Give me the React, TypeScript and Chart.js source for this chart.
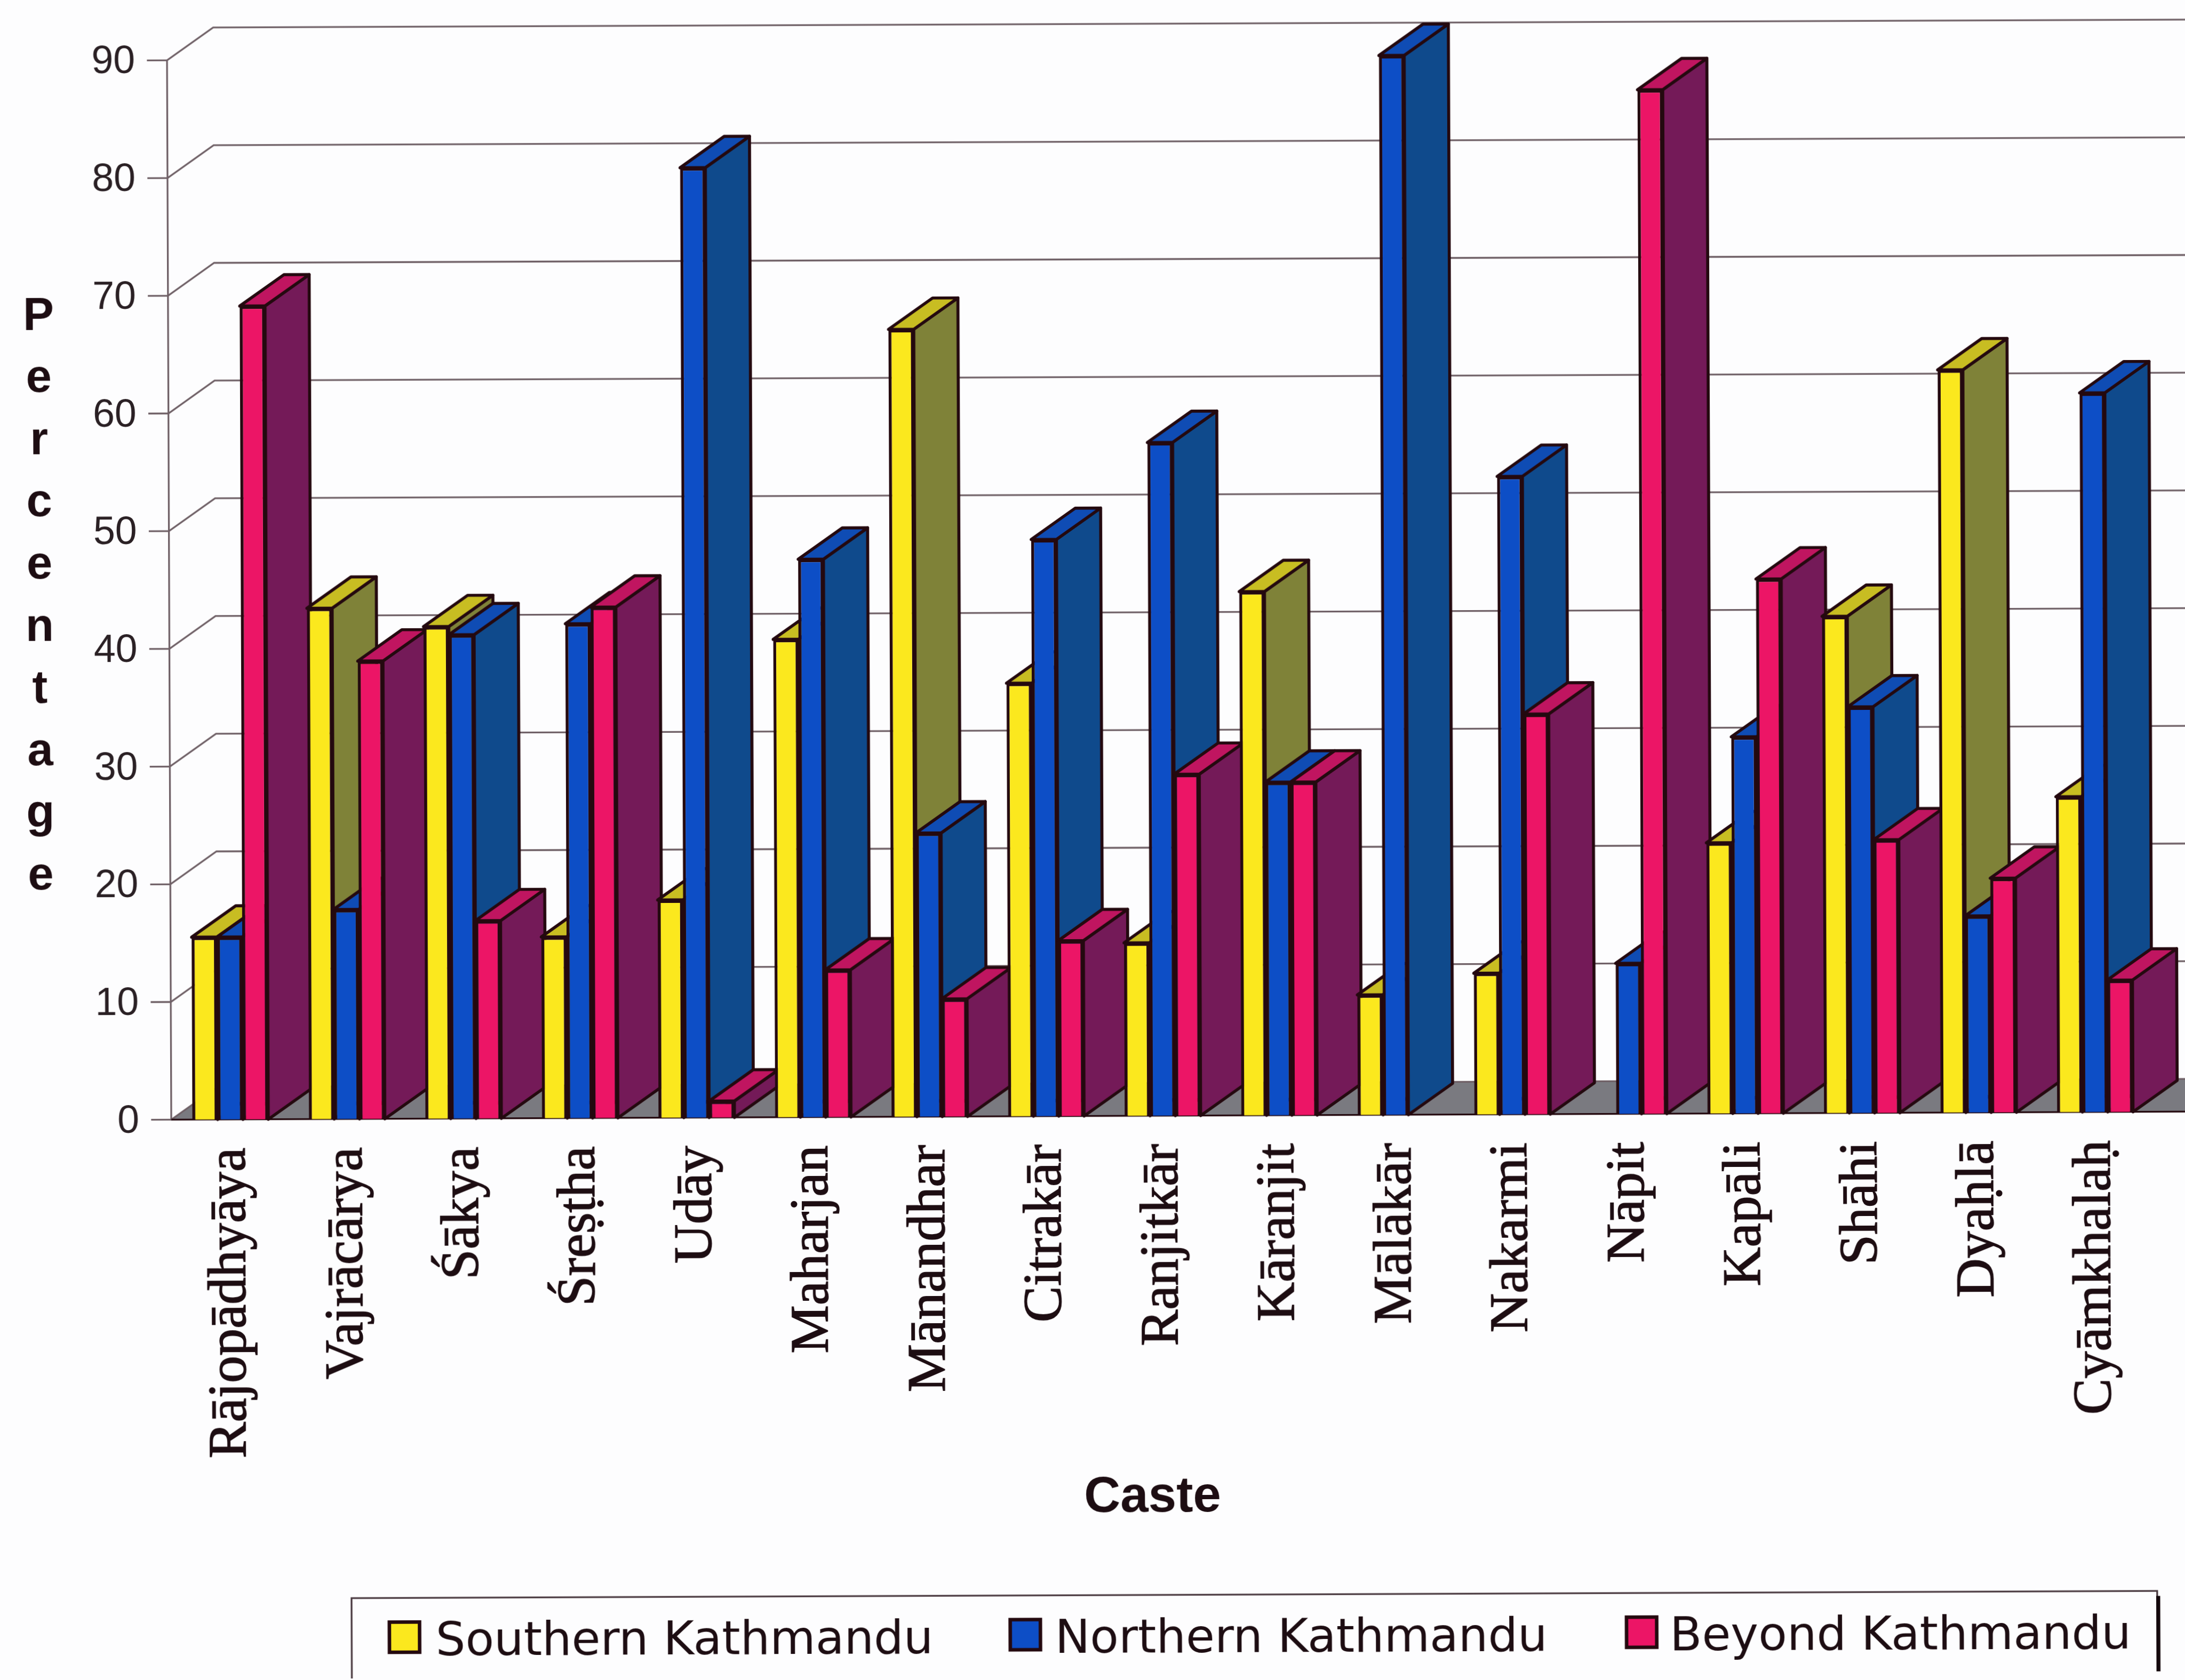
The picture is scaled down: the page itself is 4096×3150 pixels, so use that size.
import React, { useEffect, useRef } from "react";
import { Chart, registerables } from "chart.js";

Chart.register(...registerables);

const castes = [
  "Rājopādhyāya", "Vajrācārya", "Śākya", "Śreṣṭha", "Udāy", "Maharjan",
  "Mānandhar", "Citrakār", "Ranjitkār", "Kāranjit", "Mālākār", "Nakarmi",
  "Nāpit", "Kapāli", "Shāhi", "Dyaḥlā", "Cyāmkhalaḥ",
];
const southern = [15.5, 43.4, 41.8, 15.4, 18.5, 40.6, 66.9, 36.8, 14.7, 44.5, 10.2, 12, 0, 23, 42.2, 63.1, 26.8];
const northern = [15.5, 17.8, 41.1, 42, 80.7, 47.4, 24.1, 49, 57.2, 28.3, 90, 54.2, 12.8, 32, 34.5, 16.7, 61.1];
const beyond = [69.1, 38.9, 16.8, 43.4, 1.4, 12.5, 10, 14.9, 29, 28.3, 0, 34, 87, 45.4, 23.2, 19.9, 11.2];
const seriesNames = ["Southern Kathmandu", "Northern Kathmandu", "Beyond Kathmandu"];
const yAxisLetters = ["P", "e", "r", "c", "e", "n", "t", "a", "g", "e"];

// Face shades for each series: front, top, side.
const faces = [
  { front: "#fbe81e", top: "#c8bd22", side: "#7f8238" },
  { front: "#0d4ec6", top: "#0f4cb4", side: "#0f4a8c" },
  { front: "#ec1566", top: "#c01560", side: "#741a58" },
];

const WIDTH = 4096;
const HEIGHT = 3150;
const S = WIDTH / 4343;
const TILT = 0.004;

const INK = "#24090f";
const GRID = "#6f6066";
const FLOOR = "#7a7a80";
const PLOT_LEFT = 333 * S;
const PLOT_RIGHT = 4272.5 * S;
const PLOT_TOP = 121.3 * S;
const PLOT_BOTTOM = 2227.4 * S;
const AXIS_X = 331.5 * S;
const WALL_DX = 92 * S;
const WALL_DY = 65 * S;
const BAR_DX = 88 * S;
const BAR_DY = 62 * S;
const EDGE = 6 * S;

function polygon(ctx: CanvasRenderingContext2D, pts: number[][], fill: string) {
  ctx.beginPath();
  pts.forEach(([x, y], i) => (i ? ctx.lineTo(x, y) : ctx.moveTo(x, y)));
  ctx.closePath();
  ctx.fillStyle = fill;
  ctx.fill();
  ctx.lineWidth = EDGE;
  ctx.lineJoin = "round";
  ctx.strokeStyle = INK;
  ctx.stroke();
}

const perspectivePlugin = {
  id: "perspective",
  // Nudges the value labels down so the digits sit level with their tick marks.
  beforeDraw(chart: any) {
    chart.scales.y.getLabelItems().forEach((item: any) => {
      if (!item.nudged) {
        item.options.translation[1] += 4 * S;
        item.nudged = true;
      }
    });
  },
  // Back wall, floor and the value axis sit behind every bar.
  beforeDatasetsDraw(chart: any) {
    const { ctx, scales } = chart;
    const y = scales.y;
    const farRight = WIDTH + 40;
    ctx.save();
    const y0 = y.getPixelForValue(0);
    ctx.beginPath();
    ctx.moveTo(AXIS_X, y0);
    ctx.lineTo(AXIS_X + WALL_DX, y0 - WALL_DY);
    ctx.lineTo(farRight, y0 - WALL_DY);
    ctx.lineTo(farRight, y0);
    ctx.closePath();
    ctx.fillStyle = FLOOR;
    ctx.fill();

    ctx.strokeStyle = GRID;
    ctx.lineWidth = 3.5 * S;
    y.ticks.forEach((t: any) => {
      const py = y.getPixelForValue(t.value);
      ctx.beginPath();
      ctx.moveTo(AXIS_X - 40 * S, py);
      ctx.lineTo(AXIS_X, py);
      ctx.lineTo(AXIS_X + WALL_DX, py - WALL_DY);
      ctx.lineTo(farRight, py - WALL_DY);
      ctx.stroke();
    });
    ctx.beginPath();
    ctx.moveTo(AXIS_X, y.getPixelForValue(90));
    ctx.lineTo(AXIS_X, y0);
    ctx.stroke();
    ctx.strokeStyle = INK;
    ctx.beginPath();
    ctx.moveTo(AXIS_X, y0);
    ctx.lineTo(farRight, y0);
    ctx.stroke();

    // Bars are painted group by group, left to right, so each one hides
    // the depth of its left-hand neighbour.
    castes.forEach((_, index) => {
      chart.data.datasets.forEach((ds: any, di: number) => {
        if (!ds.data[index]) return;
        const el = chart.getDatasetMeta(di).data[index];
        const { x, y: top, base, width } = el.getProps(["x", "y", "base", "width"], true);
        const x1 = x - width / 2;
        const x2 = x + width / 2;
        polygon(ctx, [[x2, top], [x2 + BAR_DX, top - BAR_DY], [x2 + BAR_DX, base - BAR_DY], [x2, base]], faces[di].side);
        polygon(ctx, [[x1, top], [x1 + BAR_DX, top - BAR_DY], [x2 + BAR_DX, top - BAR_DY], [x2, top]], faces[di].top);
        el.draw(ctx);
      });
    });
    ctx.restore();
    return false;
  },
  afterDraw(chart: any) {
    const { ctx } = chart;
    ctx.save();
    // Vertical axis caption, one letter per row.
    ctx.fillStyle = "#1d0d12";
    ctx.textAlign = "center";
    ctx.textBaseline = "alphabetic";
    ctx.font = `bold ${92 * S}px "Liberation Sans"`;
    yAxisLetters.forEach((c, i) => ctx.fillText(c, 74 * S, (656 + i * 123.6) * S));

    // Horizontal axis caption.
    ctx.font = `bold ${100 * S}px "Liberation Sans"`;
    ctx.fillText("Caste", 2279 * S, 3014 * S);

    // Legend frame runs off the bottom edge.
    const boxL = 686 * S;
    const boxT = 3180 * S;
    const boxR = 4275 * S;
    const boxB = HEIGHT + 40;
    ctx.strokeStyle = "#4a3a40";
    ctx.lineWidth = 3.5 * S;
    ctx.beginPath();
    ctx.moveTo(boxL, boxB);
    ctx.lineTo(boxL, boxT);
    ctx.lineTo(boxR, boxT);
    ctx.lineTo(boxR, boxB);
    ctx.stroke();
    ctx.strokeStyle = "#14080c";
    ctx.lineWidth = 8 * S;
    ctx.beginPath();
    ctx.moveTo(boxR + 2 * S, 3190 * S);
    ctx.lineTo(boxR + 2 * S, boxB);
    ctx.stroke();

    const swatchX = [761, 1995, 3220];
    const textX = [853, 2084, 3306];
    ctx.font = `${93 * S}px "DejaVu Sans"`;
    ctx.textAlign = "left";
    seriesNames.forEach((name, i) => {
      ctx.fillStyle = faces[i].front;
      ctx.fillRect(swatchX[i] * S, 3228 * S, 60 * S, 60 * S);
      ctx.strokeStyle = INK;
      ctx.lineWidth = 7 * S;
      ctx.strokeRect(swatchX[i] * S, 3228 * S, 60 * S, 60 * S);
      ctx.fillStyle = "#1d0d12";
      ctx.fillText(name, textX[i] * S, 3294 * S);
    });
    ctx.restore();
  },
};

export default function App() {
  const ref = useRef<HTMLCanvasElement | null>(null);

  useEffect(() => {
    document.body.style.margin = "0";
    document.body.style.background = "#fdfdfe";
    document.documentElement.style.overflow = "hidden";
    const chart = new Chart(ref.current as HTMLCanvasElement, {
      type: "bar",
      data: {
        labels: castes,
        datasets: [southern, northern, beyond].map((values, i) => ({
          label: seriesNames[i],
          data: values,
          backgroundColor: faces[i].front,
          borderColor: INK,
          borderWidth: EDGE,
          categoryPercentage: 0.6516,
          barPercentage: 1,
        })),
      },
      options: {
        responsive: false,
        animation: false,
        devicePixelRatio: 1,
        layout: { padding: { top: PLOT_TOP, right: WIDTH - PLOT_RIGHT, bottom: 0, left: 0 } },
        plugins: { legend: { display: false }, title: { display: false }, tooltip: { enabled: false } },
        scales: {
          x: {
            grid: { display: false, drawTicks: false },
            border: { display: false },
            ticks: {
              autoSkip: false,
              minRotation: 90,
              maxRotation: 90,
              padding: 56 * S,
              color: "#1d0d12",
              textStrokeColor: "#1d0d12",
              textStrokeWidth: 1.5,
              font: { family: '"Liberation Serif"', size: 108 * S },
            },
            afterFit(scale: any) {
              scale.height = HEIGHT - PLOT_BOTTOM;
            },
          },
          y: {
            min: 0,
            max: 90,
            grid: { display: false, drawTicks: false },
            border: { display: false },
            ticks: {
              stepSize: 10,
              padding: 65 * S,
              color: "#2a2024",
              font: { family: '"Liberation Sans"', size: 78 * S },
            },
            afterFit(scale: any) {
              scale.width = PLOT_LEFT;
            },
          },
        },
      },
      plugins: [perspectivePlugin],
    } as any);
    return () => chart.destroy();
  }, []);

  return (
    <div style={{ position: "fixed", inset: 0, overflow: "hidden" }}>
      <canvas
        ref={ref}
        width={WIDTH}
        height={HEIGHT}
        style={{
          display: "block",
          width: WIDTH,
          height: HEIGHT,
          transformOrigin: "0 0",
          transform: `rotate(${-TILT}rad)`,
        }}
      />
    </div>
  );
}
